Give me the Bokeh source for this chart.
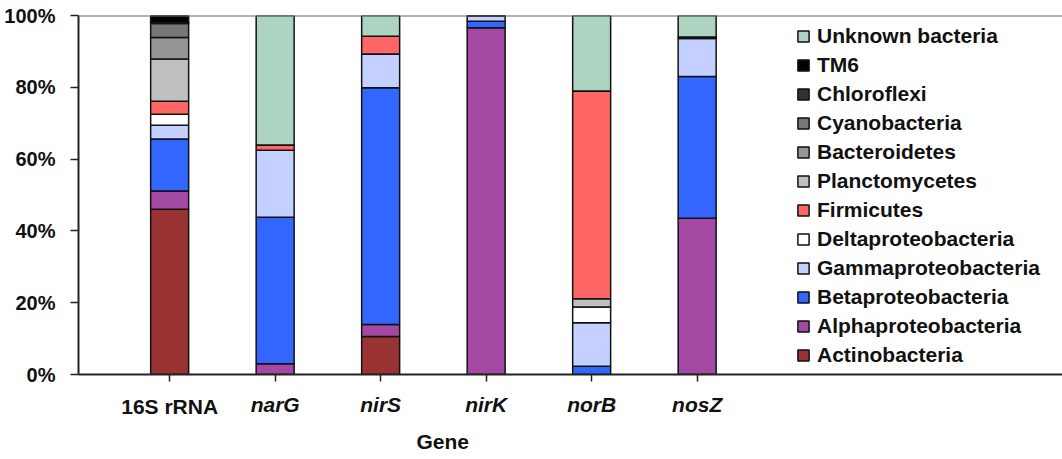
from bokeh.plotting import figure
from bokeh.models import (Legend, LegendItem, Span, FixedTicker, PrintfTickFormatter,
                          LinearAxis, Title, ColumnDataSource)
from bokeh.embed import file_html
from bokeh.resources import INLINE

genes = ["16S rRNA", "narG", "nirS", "nirK", "norB", "nosZ"]

# default stacking order bottom -> top (legend shows it reversed)
taxa = ["Actinobacteria", "Alphaproteobacteria", "Betaproteobacteria", "Gammaproteobacteria",
        "Deltaproteobacteria", "Firmicutes", "Planctomycetes", "Bacteroidetes",
        "Cyanobacteria", "Chloroflexi", "TM6", "Unknown bacteria"]
colors = ["#993333", "#a349a4", "#3366ff", "#c4d0ff",
          "#ffffff", "#ff6666", "#c0c0c0", "#969696",
          "#777777", "#333333", "#000000", "#acd4c0"]

# percentages per gene (16S rRNA, narG, nirS, nirK, norB, nosZ)
Actinobacteria      = [46.0, 0.0, 10.6, 0.0, 0.0, 0.0]
Alphaproteobacteria = [5.1, 3.0, 3.3, 96.6, 0.0, 43.5]
Betaproteobacteria  = [14.5, 40.8, 66.0, 1.8, 2.3, 39.5]
Gammaproteobacteria = [3.8, 18.7, 9.4, 1.6, 12.1, 10.6]
Deltaproteobacteria = [3.1, 0.0, 0.0, 0.0, 4.4, 0.4]
Firmicutes          = [3.6, 1.4, 4.9, 0.0, 58.0, 0.0]
Planctomycetes      = [11.8, 0.0, 0.0, 0.0, 2.2, 0.0]
Bacteroidetes       = [6.0, 0.0, 0.0, 0.0, 0.0, 0.0]
Cyanobacteria       = [3.9, 0.0, 0.0, 0.0, 0.0, 0.0]
Chloroflexi         = [0.3, 0.0, 0.0, 0.0, 0.0, 0.0]
TM6                 = [1.9, 0.0, 0.0, 0.0, 0.0, 0.0]
Unknown_bacteria    = [0.0, 36.1, 5.8, 0.0, 21.0, 6.0]

values = [Actinobacteria, Alphaproteobacteria, Betaproteobacteria, Gammaproteobacteria,
          Deltaproteobacteria, Firmicutes, Planctomycetes, Bacteroidetes,
          Cyanobacteria, Chloroflexi, TM6, Unknown_bacteria]

# in the norB bar Planctomycetes sits below Firmicutes
order_norB = ["Actinobacteria", "Alphaproteobacteria", "Betaproteobacteria", "Gammaproteobacteria",
              "Deltaproteobacteria", "Planctomycetes", "Firmicutes", "Bacteroidetes",
              "Cyanobacteria", "Chloroflexi", "TM6", "Unknown bacteria"]
bar_orders = {"norB": order_norB}

val = dict(zip(taxa, values))
bottoms = {t: [0.0] * len(genes) for t in taxa}
tops = {t: [0.0] * len(genes) for t in taxa}
for gi, g in enumerate(genes):
    acc = 0.0
    for t in bar_orders.get(g, taxa):
        bottoms[t][gi] = acc
        acc += val[t][gi]
        tops[t][gi] = acc

FONT = "Liberation Sans"
INK = "#111111"

p = figure(width=1062, height=459, output_backend="svg", toolbar_location=None,
           x_range=(-0.864, 8.463), y_range=(0, 100),
           min_border_left=78, min_border_right=0, min_border_top=15, min_border_bottom=84)
p.outline_line_color = None
p.xgrid.visible = False
p.ygrid.visible = False

rs = []
for t, c in zip(taxa, colors):
    src = ColumnDataSource(dict(x=list(range(len(genes))), bottom=bottoms[t], top=tops[t]))
    rs.append(p.vbar(x="x", bottom="bottom", top="top", width=0.36, source=src,
                     fill_color=c, line_color=INK, line_width=1.5))

# y axis
p.yaxis.ticker = FixedTicker(ticks=[0, 20, 40, 60, 80, 100])
p.yaxis.formatter = PrintfTickFormatter(format="%d%%")
p.yaxis.minor_tick_line_color = None
p.yaxis.major_tick_in = 0
p.yaxis.major_tick_out = 8
p.yaxis.major_label_standoff = 15
p.yaxis.major_label_text_font = FONT
p.yaxis.major_label_text_font_style = "bold"
p.yaxis.major_label_text_font_size = "20px"
p.yaxis.major_label_text_color = INK
p.yaxis.axis_line_color = "#222222"
p.yaxis.axis_line_width = 2
p.yaxis.major_tick_line_color = "#222222"
p.yaxis.major_tick_line_width = 1.5

# x axis: gene names (italic), tick marks for all
ticks = list(range(len(genes)))
xa = p.xaxis[0]
xa.ticker = FixedTicker(ticks=ticks)
xa.major_label_overrides = {i: ("" if i == 0 else g) for i, g in enumerate(genes)}
xa.minor_tick_line_color = None
xa.major_tick_in = 0
xa.major_tick_out = 7
xa.major_label_standoff = 11
xa.major_label_text_font = FONT
xa.major_label_text_font_style = "bold italic"
xa.major_label_text_font_size = "21px"
xa.major_label_text_color = INK
xa.axis_line_color = "#222222"
xa.axis_line_width = 2
xa.major_tick_line_color = "#222222"
xa.major_tick_line_width = 1.5

# second axis carrying the non-italic "16S rRNA" label on the same line
xa2 = LinearAxis(ticker=FixedTicker(ticks=[0]),
                 major_label_overrides={0: genes[0]},
                 axis_line_color=None, major_tick_line_color=None,
                 minor_tick_line_color=None, major_tick_in=0, major_tick_out=0,
                 major_label_standoff=-24,
                 major_label_text_font=FONT, major_label_text_font_style="bold",
                 major_label_text_font_size="21px", major_label_text_color=INK)
p.add_layout(xa2, "below")

p.add_layout(Title(text="Gene", align="left", offset=338, standoff=14,
                   text_font=FONT, text_font_style="bold", text_font_size="21px",
                   text_color=INK), "below")

# top line
p.add_layout(Span(location=100, dimension="width", line_color="#666666", line_width=2))

items = [LegendItem(label=t, renderers=[r]) for t, r in zip(taxa, rs)][::-1]
legend = Legend(items=items, location=(718, 7), padding=0, margin=0,
                border_line_color=None, background_fill_alpha=0,
                glyph_width=14, glyph_height=14, label_height=24, spacing=5,
                label_standoff=7, label_text_font=FONT, label_text_font_style="bold",
                label_text_font_size="21px", label_text_color=INK)
p.add_layout(legend)

open("out.html", "w").write(file_html(p, INLINE))
